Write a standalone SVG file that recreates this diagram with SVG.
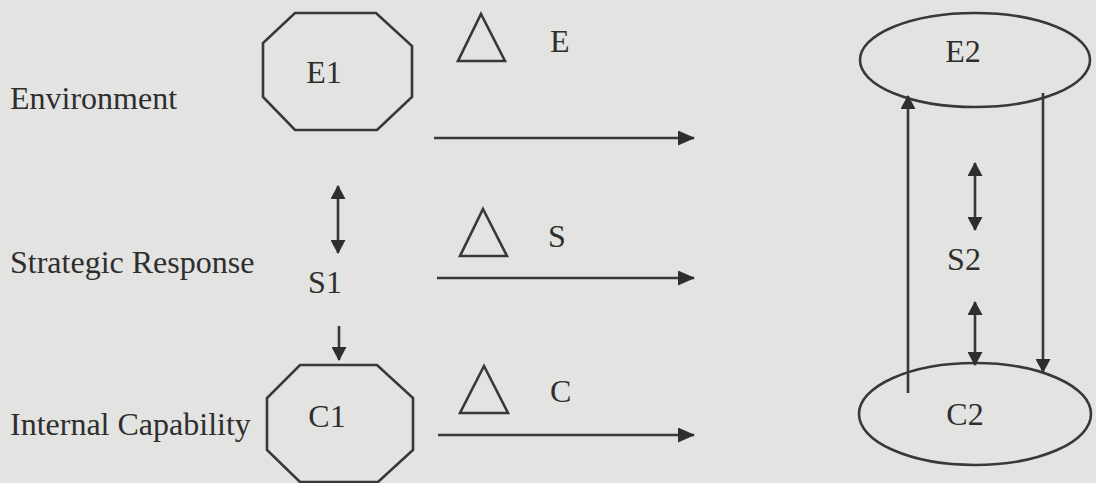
<svg xmlns="http://www.w3.org/2000/svg" width="1096" height="483" viewBox="0 0 1096 483">
<style>
.bg{fill:#e3e3e1}
.shape{fill:none;stroke:#383838;stroke-width:2.6}
.line{fill:none;stroke:#383838;stroke-width:2.6}
.lbl{font-family:"Liberation Serif","Times New Roman",serif;font-size:32px;fill:#2e2e2e}
.node{font-family:"Liberation Serif","Times New Roman",serif;font-size:32px;fill:#2e2e2e;text-anchor:middle}
</style>
<defs>
<marker id="ah" viewBox="0 0 17 15" refX="16" refY="7.5" markerWidth="17" markerHeight="15" markerUnits="userSpaceOnUse" orient="auto-start-reverse">
<path d="M0,0 L17,7.5 L0,15 z" fill="#2e2e2e"/>
</marker>
<marker id="ahs" viewBox="0 0 14 15" refX="13" refY="7.5" markerWidth="14" markerHeight="15" markerUnits="userSpaceOnUse" orient="auto-start-reverse">
<path d="M0,0 L14,7.5 L0,15 z" fill="#2e2e2e"/>
</marker>
</defs>
<rect class="bg" x="0" y="0" width="1096" height="483"/>

<g id="labels">
<text class="lbl" x="10" y="109">Environment</text>
<text class="lbl" x="10" y="273">Strategic Response</text>
<text class="lbl" x="10" y="435">Internal Capability</text>
</g>

<g id="E1">
<polygon class="shape" points="295,13 376,13 412,46 412,97 377,130 295,130 263,97 263,43"/>
<text class="node" x="324" y="83">E1</text>
</g>
<g id="S1">
<text class="node" x="325" y="293">S1</text>
</g>
<g id="C1">
<polygon class="shape" points="300,365 377,365 413,398 413,450 378,482 300,482 267,450 267,398"/>
<text class="node" x="327" y="427">C1</text>
</g>

<g id="deltaE">
<polygon class="shape" points="481,14 505,61 458,61"/>
<text class="lbl" x="550" y="52">E</text>
</g>
<g id="deltaS">
<polygon class="shape" points="483,209 507,256 460,256"/>
<text class="lbl" x="548" y="247">S</text>
</g>
<g id="deltaC">
<polygon class="shape" points="484,366 508,413 460,413"/>
<text class="lbl" x="550" y="402">C</text>
</g>

<g id="E2">
<ellipse class="shape" cx="975" cy="60" rx="115" ry="47"/>
<text class="node" x="963" y="62">E2</text>
</g>
<g id="S2">
<text class="node" x="964" y="270">S2</text>
</g>
<g id="C2">
<ellipse class="shape" cx="975" cy="414" rx="116" ry="51"/>
<text class="node" x="965" y="425">C2</text>
</g>

<g id="connectors">
<line class="line" x1="434" y1="138" x2="694" y2="138" marker-end="url(#ah)"/>
<line class="line" x1="437" y1="278" x2="694" y2="278" marker-end="url(#ah)"/>
<line class="line" x1="438" y1="435" x2="694" y2="435" marker-end="url(#ah)"/>
<line class="line" x1="338" y1="186" x2="338" y2="253" marker-start="url(#ahs)" marker-end="url(#ahs)"/>
<line class="line" x1="339" y1="326" x2="339" y2="360" marker-end="url(#ahs)"/>
<line class="line" x1="908" y1="393" x2="908" y2="96" marker-end="url(#ahs)"/>
<line class="line" x1="1043" y1="93" x2="1043" y2="372" marker-end="url(#ahs)"/>
<line class="line" x1="975" y1="163" x2="975" y2="230" marker-start="url(#ahs)" marker-end="url(#ahs)"/>
<line class="line" x1="975" y1="302" x2="975" y2="365" marker-start="url(#ahs)" marker-end="url(#ahs)"/>
</g>
</svg>
